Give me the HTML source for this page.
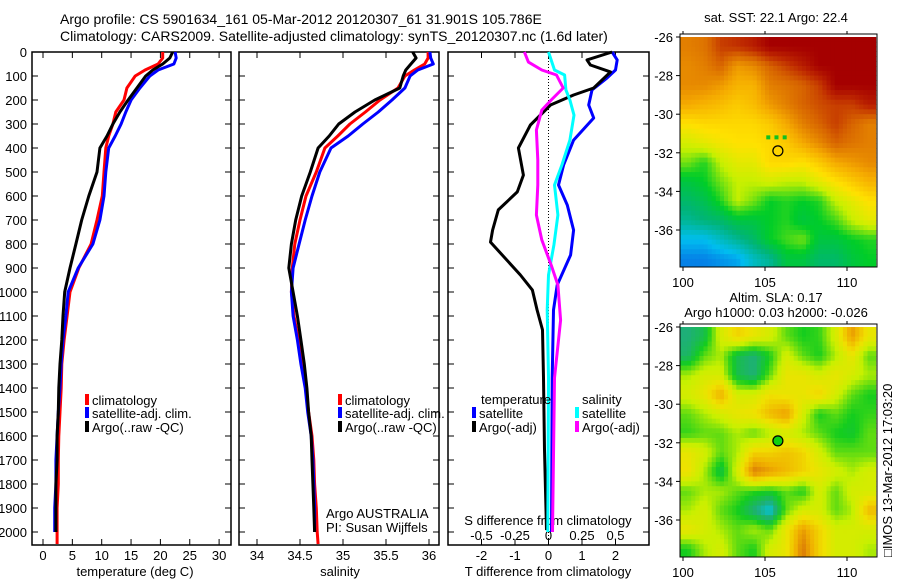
<!DOCTYPE html>
<html><head><meta charset="utf-8">
<style>
body{margin:0;background:#fff;}
svg{display:block;font-family:"Liberation Sans",sans-serif;}
text{font-size:13px;fill:#000;}
</style></head>
<body>
<svg id="c" width="900" height="580" viewBox="0 0 900 580">
<text x="60" y="24" style="font-size:14px">Argo profile: CS 5901634_161 05-Mar-2012 20120307_61 31.901S 105.786E</text>
<text x="60" y="41" style="font-size:14px">Climatology: CARS2009. Satellite-adjusted climatology: synTS_20120307.nc (1.6d later)</text>
<text x="776" y="22" text-anchor="middle">sat. SST: 22.1 Argo: 22.4</text>
<text x="776" y="302" text-anchor="middle">Altim. SLA: 0.17</text>
<text x="776" y="317" text-anchor="middle">Argo h1000: 0.03 h2000: -0.026</text>
<text transform="translate(892,557) rotate(-90)">□IMOS 13-Mar-2012 17:03:20</text>
<g id="g"></g>
</svg>
<script>
// ---- data ----
const depths=[0,25,50,75,100,150,200,250,300,350,400,500,600,700,800,900,1000,1100,1200,1300,1400,1500,1600,1700,1800,1900,2000];
const depthsClim=[0,25,50,75,100,150,200,250,300,350,400,500,600,700,800,900,1000,1100,1200,1300,1400,1500,1600,1700,1800,1900,2000,2050];
const tempClim=[20.4,20.4,19.6,17.4,15.7,14.3,13.8,12.4,11.9,11.2,10.7,10.4,10.1,9.2,8.2,6.1,4.6,4.1,3.6,3.2,3.1,2.9,2.7,2.6,2.6,2.4,2.4,2.4];
const tempSat=[22.5,22.7,22.3,19.6,18.2,16.5,15.0,14.1,13.3,12.3,11.2,10.7,10.4,9.7,8.5,6.0,4.3,3.9,3.4,3.1,2.9,2.6,2.4,2.2,2.2,2.0,2.0];
const tempArgo=[22.1,21.6,20.4,18.7,17.5,16.0,14.5,13.1,11.9,10.9,9.7,9.2,7.8,6.6,5.6,4.6,3.7,3.4,3.2,2.9,2.7,2.6,2.4,2.4,2.2,2.2,2.2];
const salClim=[35.99,35.99,35.95,35.83,35.72,35.64,35.43,35.26,35.08,34.94,34.79,34.69,34.57,34.50,34.44,34.41,34.40,34.43,34.48,34.52,34.57,34.60,34.64,34.66,34.67,34.69,34.70,34.71];
const salSat=[36.01,36.02,36.05,35.87,35.78,35.72,35.57,35.41,35.23,35.06,34.86,34.73,34.64,34.56,34.49,34.42,34.40,34.42,34.47,34.51,34.56,34.59,34.63,34.65,34.66,34.67,34.67];
const salArgo=[35.81,35.85,35.79,35.73,35.70,35.66,35.37,35.14,34.95,34.84,34.71,34.62,34.52,34.45,34.40,34.37,34.42,34.47,34.51,34.55,34.58,34.60,34.63,34.64,34.65,34.66,34.67];
const dTSatDepth=[0,33,75,108,158,221,275,367,471,554,638,742,846,971,1075,1358,2000];
const dTSat=[1.9,2.05,2.0,1.75,1.3,1.2,1.35,0.75,0.45,0.3,0.56,0.75,0.66,0.26,0.15,0.11,0.09];
const dTArgoDepth=[0,33,54,83,150,179,221,304,400,513,583,658,742,792,929,992,1075,1158,1358,1658,1992];
const dTArgo=[1.9,1.15,1.25,1.85,1.35,0.75,0.06,-0.54,-0.9,-0.75,-0.93,-1.5,-1.67,-1.73,-0.84,-0.48,-0.34,-0.18,-0.15,-0.12,-0.06];
const dSSatDepth=[0,75,96,158,200,263,367,471,554,679,804,929,1075,1358,2000];
const dSSat=[0,0.045,0.12,0.13,0.16,0.19,0.16,0.1,0.045,0.07,0.04,0,-0.01,0,-0.005];
const dSArgoDepth=[0,42,75,96,150,200,242,325,450,554,679,783,888,971,1117,1358,2000];
const dSArgo=[-0.18,-0.15,-0.05,0.06,0.11,0.02,-0.05,-0.09,-0.08,-0.08,-0.09,-0.05,0.02,0.07,0.09,0.045,0.03];
const depthTicks=[0,100,200,300,400,500,600,700,800,900,1000,1100,1200,1300,1400,1500,1600,1700,1800,1900,2000];
const tempTicks=[0,5,10,15,20,25,30];
const salTicks=[34,34.5,35,35.5,36];
const dTTicks=[-2,-1,0,1,2];
const dSTicks=[-0.5,-0.25,0,0.25,0.5];
const dSTickLabels=["-0.5","-0.25","0","0.25","0.5"];
const lonTicks=[100,105,110];
const latTicks=[-26,-28,-30,-32,-34,-36];
const sstGrid=[
[.8,.82,.9,.92,.95,1,1,1,1,1,1,1],
[.78,.8,.85,.75,.78,.85,.9,.95,1,1,1,1],
[.78,.78,.75,.7,.7,.8,.82,.85,.9,1,1,1],
[.72,.7,.68,.65,.68,.75,.8,.85,.88,.9,.9,.95],
[.6,.62,.62,.62,.62,.65,.72,.8,.85,.9,.85,.8],
[.52,.55,.58,.6,.6,.62,.65,.72,.78,.85,.82,.8],
[.45,.4,.5,.55,.55,.62,.62,.6,.65,.72,.75,.78],
[.35,.38,.45,.5,.5,.52,.5,.5,.55,.6,.65,.7],
[.3,.33,.4,.5,.45,.38,.4,.38,.4,.5,.55,.6],
[.25,.28,.3,.35,.35,.38,.4,.35,.38,.42,.5,.55],
[.15,.15,.2,.25,.3,.38,.42,.45,.35,.35,.38,.4],
[.08,.08,.1,.12,.2,.25,.35,.35,.3,.3,.35,.38]];
const slaGrid=[
[.3,.35,.55,.65,.6,.55,.45,.4,.42,.55,.75,.6],
[.32,.45,.5,.35,.3,.4,.55,.45,.4,.5,.6,.45],
[.5,.55,.55,.35,.3,.45,.6,.6,.55,.6,.55,.5],
[.55,.6,.72,.55,.55,.62,.6,.6,.65,.55,.45,.4],
[.45,.5,.55,.6,.62,.7,.75,.55,.4,.45,.4,.42],
[.42,.45,.45,.5,.45,.5,.55,.5,.45,.4,.38,.45],
[.6,.55,.45,.5,.65,.65,.68,.65,.55,.45,.45,.45],
[.62,.5,.35,.55,.8,.75,.7,.65,.6,.55,.5,.55],
[.45,.5,.5,.45,.42,.4,.45,.4,.55,.45,.55,.55],
[.5,.55,.45,.4,.3,.2,.45,.55,.55,.45,.5,.7],
[.6,.55,.5,.45,.5,.45,.6,.75,.65,.55,.55,.55],
[.4,.5,.55,.45,.4,.55,.6,.8,.65,.55,.55,.5]];
const argoLon=105.786, argoLat=-31.901;

// ---- drawing ----
const NS="http://www.w3.org/2000/svg";
const G=document.getElementById('g');
function mk(tag,attrs,parent){const e=document.createElementNS(NS,tag);for(const k in attrs)e.setAttribute(k,attrs[k]);(parent||G).appendChild(e);return e;}
function txt(x,y,s,anchor,parent){const t=mk('text',{x:x,y:y,'text-anchor':anchor||'start'},parent);t.textContent=s;return t;}
const TOP=52,BOT=545;
const yD=d=>TOP+d*0.24;
const xT=v=>43+v*5.87;
const xS=v=>257+(v-34)*86;
const xdT=v=>548.5+v*33.5;
const xdS=v=>548.5+v*134;

function frame(x0,x1,name){
  const r=mk('rect',{x:x0,y:TOP,width:x1-x0,height:BOT-TOP,fill:'none',stroke:'#000','stroke-width':1.5});
  
  
  depthTicks.forEach(d=>{
    mk('line',{x1:x0,x2:x0+6,y1:yD(d),y2:yD(d),stroke:'#000'});
    mk('line',{x1:x1,x2:x1-6,y1:yD(d),y2:yD(d),stroke:'#000'});
  });
}
function xticks(vals,fx,labels,y,top,bottom){
  vals.forEach((v,i)=>{
    const x=fx(v);
    if(top)mk('line',{x1:x,x2:x,y1:TOP,y2:TOP+6,stroke:'#000'});
    if(bottom)mk('line',{x1:x,x2:x,y1:BOT,y2:BOT-6,stroke:'#000'});
    const t=txt(x,y,labels?labels[i]:String(v),'middle');
    
    
  });
}
function line(xs,ds,fx,color,name){
  const p=xs.map((v,i)=>fx(v).toFixed(1)+','+yD(ds[i]).toFixed(1)).join(' ');
  const e=mk('polyline',{points:p,fill:'none',stroke:color,'stroke-width':3,'stroke-linejoin':'round'});
  
  
}
function legend(x,y,color,label){
  mk('rect',{x:x,y:y-6,width:4,height:11,fill:color});
  const t=txt(x+7,y+5,label);
  
  
}
// panel 1
frame(32,231,'temperature-panel');
depthTicks.forEach(d=>{const t=txt(27,yD(d)+5,String(d),'end');
  
  });
xticks(tempTicks,xT,null,560,true,true);
const t1=txt(135,576,'temperature (deg C)','middle');


line(tempClim,depthsClim,xT,'#f00','temp-climatology-line');
line(tempSat,depths,xT,'#00f','temp-satellite-line');
line(tempArgo,depths,xT,'#000','temp-argo-line');
legend(85,400,'#f00','climatology');
legend(85,413,'#00f','satellite-adj. clim.');
legend(85,427,'#000','Argo(..raw -QC)');
// panel 2
frame(239,439,'salinity-panel');
xticks(salTicks,xS,null,560,true,true);
const t2=txt(340,576,'salinity','middle');


line(salClim,depthsClim,xS,'#f00','sal-climatology-line');
line(salSat,depths,xS,'#00f','sal-satellite-line');
line(salArgo,depths,xS,'#000','sal-argo-line');
legend(338,400,'#f00','climatology');
legend(338,413,'#00f','satellite-adj. clim.');
legend(338,427,'#000','Argo(..raw -QC)');
txt(326,518,'Argo AUSTRALIA');
txt(326,532,'PI: Susan Wijffels');
// panel 3
frame(448,649,'difference-panel');
mk('line',{x1:548.5,x2:548.5,y1:TOP,y2:BOT,stroke:'#000','stroke-dasharray':'1,2'});
xticks(dTTicks,xdT,null,560,false,true);
dSTicks.forEach(v=>mk('line',{x1:xdS(v),x2:xdS(v),y1:TOP,y2:TOP+6,stroke:'#000'}));
xticks(dSTicks,xdS,dSTickLabels,540,false,false);
txt(548,525,'S difference from climatology','middle');
const t3=txt(548,576,'T difference from climatology','middle');


line(dTSat,dTSatDepth,xdT,'#00f','dT-satellite-line');
line(dTArgo,dTArgoDepth,xdT,'#000','dT-argo-line');
line(dSSat,dSSatDepth,xdS,'#0ff','dS-satellite-line');
line(dSArgo,dSArgoDepth,xdS,'#f0f','dS-argo-line');
txt(481,404,'temperature');
legend(472,413,'#00f','satellite');
legend(472,427,'#000','Argo(-adj)');
txt(582,404,'salinity');
legend(575,413,'#0ff','satellite');
legend(575,427,'#f0f','Argo(-adj)');

// maps
function cmap(v,stops){
  v=Math.max(0,Math.min(1,v));
  for(let i=1;i<stops.length;i++){if(v<=stops[i][0]){const a=stops[i-1],b=stops[i],f=(v-a[0])/(b[0]-a[0]||1);
    return 'rgb('+[1,2,3].map(k=>Math.round(a[k]+(b[k]-a[k])*f)).join(',')+')';}}
  const s=stops[stops.length-1];return 'rgb('+s[1]+','+s[2]+','+s[3]+')';
}
const sstStops=[[0,10,60,220],[.15,0,190,240],[.28,0,180,120],[.38,0,205,40],[.5,200,240,0],[.6,255,225,0],[.72,245,170,0],[.85,215,100,0],[.93,190,40,0],[1,165,0,0]];
const slaStops=[[.2,0,200,230],[.3,30,175,120],[.4,20,205,30],[.52,200,240,0],[.62,240,225,0],[.72,240,175,0],[.85,205,90,10]];
function bil(grid,lon,lat){
  let fi=Math.max(0,Math.min(10.999,lon-100.3)),fj=Math.max(0,Math.min(10.999,-26.5-lat));
  const i=Math.floor(fi),j=Math.floor(fj),a=fi-i,b=fj-j;
  return grid[j][i]*(1-a)*(1-b)+grid[j][i+1]*a*(1-b)+grid[j+1][i]*(1-a)*b+grid[j+1][i+1]*a*b;
}
function map(grid,stops,y0,name,dotFill){
  const X=l=>683+(l-100)*16.4, Y=la=>y0+3+(-26-la)*19.3;
  const g=mk('g',{});
  
  
  for(let la=-26;la>-38;la-=0.25)for(let lo=99.75;lo<111.75;lo+=0.25){
    const x=Math.max(680,X(lo)),x2=Math.min(877,X(lo+0.25));
    const y=Math.max(y0,Y(la)),y2=Math.min(y0+233,Y(la-0.25));
    if(x2<=x||y2<=y)continue;
    mk('rect',{x:x,y:y,width:x2-x+0.5,height:y2-y+0.5,fill:cmap(bil(grid,lo+0.125,la-0.125),stops)},g);
  }
  mk('rect',{x:680,y:y0,width:197,height:233,fill:'none',stroke:'#000'},g);
  latTicks.forEach(la=>{mk('line',{x1:676,x2:680,y1:Y(la),y2:Y(la),stroke:'#000'},g);
    const t=txt(673,Y(la)+5,String(la),'end',g);
    
    });
  lonTicks.forEach(lo=>{mk('line',{x1:X(lo),x2:X(lo),y1:y0+233,y2:y0+237,stroke:'#000'},g);
    mk('line',{x1:X(lo),x2:X(lo),y1:y0,y2:y0-3,stroke:'#000'},g);
    const t=txt(X(lo),y0+253,String(lo),'middle',g);
    
    });
  const c=mk('circle',{cx:X(argoLon),cy:Y(argoLat),r:5,fill:dotFill,stroke:'#000','stroke-width':1.2},g);
  
  
  return [X,Y,g];
}
const [sx,sy,sg]=map(sstGrid,sstStops,34,'sst-map',cmap(bil(sstGrid,argoLon,argoLat),sstStops));
[105.2,105.7,106.2].forEach(lo=>mk('rect',{x:sx(lo)-2,y:sy(-31.2)-2,width:4,height:4,fill:'#10c020'},sg));
map(slaGrid,slaStops,324,'sla-map','#10d010');
</script>
</body></html>
